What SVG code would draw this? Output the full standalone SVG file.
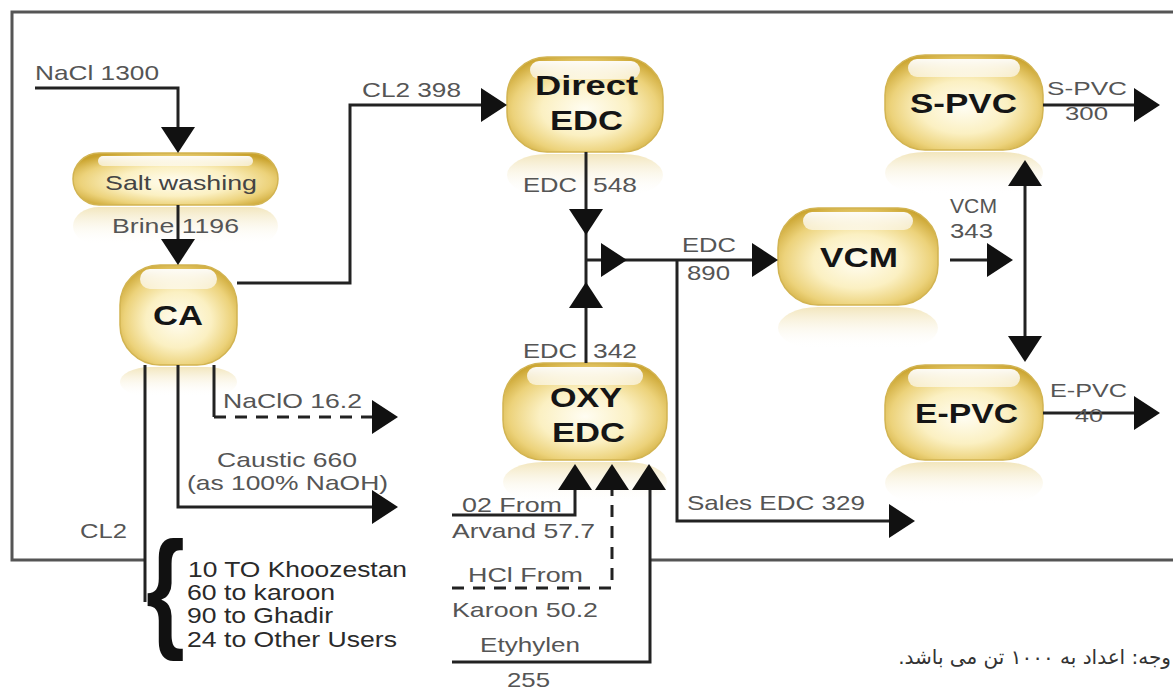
<svg xmlns="http://www.w3.org/2000/svg" xmlns:xlink="http://www.w3.org/1999/xlink" width="1173" height="691" viewBox="0 0 1173 691">
<style>
.ln{stroke:#222;stroke-width:3;fill:none}
.dash{stroke-dasharray:12 9}
.frame{stroke:#555;stroke-width:3;fill:none}
.ah{fill:#111}
.lbl{font-family:"Liberation Sans",Arial,sans-serif;font-size:21px;fill:#555}
.sm{font-size:18px}
.lst{font-family:"Liberation Sans",Arial,sans-serif;font-size:22px;fill:#2a2a2a}
.brace{font-family:"Liberation Sans",Arial,sans-serif;font-size:100px;font-weight:bold;fill:#111}
.nt{font-family:"Liberation Sans",Arial,sans-serif;font-weight:bold;font-size:28px;fill:#151515}
.nw{font-family:"Liberation Sans",Arial,sans-serif;font-size:21px;fill:#444}
.body{fill:url(#gold);stroke:#d2b452;stroke-width:1.5}
.hi{fill:url(#hil)}
.refl{fill:url(#rfl)}
.fa{font-family:"DejaVu Sans","Noto Sans",sans-serif;font-size:20px;fill:#333}
</style>
<defs>
<radialGradient id="gold" cx="0.5" cy="0.55" r="0.62">
<stop offset="0" stop-color="#fffdf2"/>
<stop offset="0.45" stop-color="#fbf0c2"/>
<stop offset="0.75" stop-color="#ecd27a"/>
<stop offset="1" stop-color="#c9a22c"/>
</radialGradient>
<linearGradient id="hil" x1="0" y1="0" x2="0" y2="1">
<stop offset="0" stop-color="#fff" stop-opacity="0.95"/>
<stop offset="1" stop-color="#fff" stop-opacity="0.6"/>
</linearGradient>
<linearGradient id="rfl" x1="0" y1="0" x2="0" y2="1">
<stop offset="0" stop-color="#e8d186" stop-opacity="0.55"/>
<stop offset="1" stop-color="#fff" stop-opacity="0"/>
</linearGradient>
<path id="ah" d="M0,0 L-26,-17 L-26,17 Z"/>
</defs>
<rect width="1173" height="691" fill="#fff"/>

<g id="n-salt">
<rect class="refl" x="73" y="207" width="205" height="38" rx="26"/>
<rect class="body" x="73" y="153" width="205" height="52" rx="26"/>
<rect class="hi" x="98" y="156" width="155" height="10" rx="5"/>
<text class="nw" x="105" y="190" textLength="152" lengthAdjust="spacingAndGlyphs">Salt washing</text>
</g>
<g id="n-ca">
<rect class="refl" x="120" y="367" width="117" height="30" rx="30"/>
<rect class="body" x="120" y="265" width="117" height="100" rx="40"/>
<rect class="hi" x="140" y="269" width="77" height="20" rx="10"/>
<text class="nt" x="153" y="325" textLength="50" lengthAdjust="spacingAndGlyphs">CA</text>
</g>
<g id="n-direct">
<rect class="refl" x="507" y="154" width="156" height="42" rx="40"/>
<rect class="body" x="507" y="57" width="156" height="95" rx="40"/>
<rect class="hi" x="530" y="61" width="110" height="18" rx="9"/>
<text class="nt" x="535" y="95" textLength="103" lengthAdjust="spacingAndGlyphs">Direct</text>
<text class="nt" x="550" y="130" textLength="73" lengthAdjust="spacingAndGlyphs">EDC</text>
</g>
<g id="n-vcm">
<rect class="refl" x="778" y="307" width="160" height="42" rx="40"/>
<rect class="body" x="778" y="208" width="160" height="97" rx="40"/>
<rect class="hi" x="803" y="212" width="110" height="18" rx="9"/>
<text class="nt" x="820" y="267" textLength="78" lengthAdjust="spacingAndGlyphs">VCM</text>
</g>
<g id="n-spvc">
<rect class="refl" x="885" y="152" width="158" height="42" rx="40"/>
<rect class="body" x="885" y="55" width="158" height="95" rx="40"/>
<rect class="hi" x="908" y="59" width="112" height="18" rx="9"/>
<text class="nt" x="910" y="113" textLength="107" lengthAdjust="spacingAndGlyphs">S-PVC</text>
</g>
<g id="n-epvc">
<rect class="refl" x="885" y="462" width="158" height="42" rx="40"/>
<rect class="body" x="885" y="365" width="158" height="95" rx="40"/>
<rect class="hi" x="908" y="369" width="112" height="18" rx="9"/>
<text class="nt" x="915" y="423" textLength="103" lengthAdjust="spacingAndGlyphs">E-PVC</text>
</g>
<g id="n-oxy">
<rect class="refl" x="503" y="462" width="164" height="40" rx="40"/>
<rect class="body" x="503" y="363" width="164" height="97" rx="40"/>
<rect class="hi" x="527" y="367" width="116" height="18" rx="9"/>
<text class="nt" x="550" y="407" textLength="72" lengthAdjust="spacingAndGlyphs">OXY</text>
<text class="nt" x="552" y="442" textLength="73" lengthAdjust="spacingAndGlyphs">EDC</text>
</g>

<g id="connectors">
<path class="frame" d="M1173,12 H12 V560 H145"/>
<path class="frame" d="M650,560 H1173"/>
<path class="ln" d="M35,88 H178 V140"/>
<use href="#ah" class="ah" transform="translate(178,153) rotate(90)"/>
<path class="ln" d="M178,205 V255"/>
<use href="#ah" class="ah" transform="translate(178,265) rotate(90)"/>
<path class="ln" d="M237,283 H350 V105 H495"/>
<use href="#ah" class="ah" transform="translate(507,105)"/>
<path class="ln" d="M586,152 V363"/>
<use href="#ah" class="ah" transform="translate(586,235) rotate(90)"/>
<use href="#ah" class="ah" transform="translate(586,282) rotate(-90)"/>
<path class="ln" d="M586,260 H768"/>
<use href="#ah" class="ah" transform="translate(627,260)"/>
<use href="#ah" class="ah" transform="translate(778,260)"/>
<path class="ln" d="M677,260 V521 H905"/>
<use href="#ah" class="ah" transform="translate(915,521)"/>
<path class="ln" d="M950,260 H1003"/>
<use href="#ah" class="ah" transform="translate(1013,260)"/>
<path class="ln" d="M1025,170 V352"/>
<use href="#ah" class="ah" transform="translate(1025,160) rotate(-90)"/>
<use href="#ah" class="ah" transform="translate(1025,362) rotate(90)"/>
<path class="ln" d="M1043,105 H1150"/>
<use href="#ah" class="ah" transform="translate(1160,105)"/>
<path class="ln" d="M1043,413 H1150"/>
<use href="#ah" class="ah" transform="translate(1160,413)"/>
<path class="ln" d="M178,365 V507 H388"/>
<use href="#ah" class="ah" transform="translate(398,507)"/>
<path class="ln" d="M214,365 V417"/>
<path class="ln dash" d="M214,417 H388"/>
<use href="#ah" class="ah" transform="translate(398,417)"/>
<path class="ln" d="M145,365 V602"/>
<path class="ln" d="M452,515 H575 V478"/>
<use href="#ah" class="ah" transform="translate(575,464) rotate(-90)"/>
<path class="ln dash" d="M452,588 H612 V478"/>
<use href="#ah" class="ah" transform="translate(612,464) rotate(-90)"/>
<path class="ln" d="M452,662 H650 V478"/>
<use href="#ah" class="ah" transform="translate(649,464) rotate(-90)"/>
</g>

<g id="labels">
<text class="lbl" x="35" y="80" textLength="124" lengthAdjust="spacingAndGlyphs">NaCl 1300</text>
<text class="lbl" x="112" y="233" textLength="127" lengthAdjust="spacingAndGlyphs">Brine 1196</text>
<text class="lbl" x="362" y="97" textLength="99" lengthAdjust="spacingAndGlyphs">CL2 398</text>
<text class="lbl" x="523" y="192" textLength="54" lengthAdjust="spacingAndGlyphs">EDC</text>
<text class="lbl" x="593" y="192" textLength="44" lengthAdjust="spacingAndGlyphs">548</text>
<text class="lbl" x="682" y="252" textLength="54" lengthAdjust="spacingAndGlyphs">EDC</text>
<text class="lbl" x="687" y="280" textLength="43" lengthAdjust="spacingAndGlyphs">890</text>
<text class="lbl" x="523" y="358" textLength="54" lengthAdjust="spacingAndGlyphs">EDC</text>
<text class="lbl" x="593" y="358" textLength="44" lengthAdjust="spacingAndGlyphs">342</text>
<text class="lbl" x="950" y="213" textLength="47" lengthAdjust="spacingAndGlyphs">VCM</text>
<text class="lbl" x="950" y="238" textLength="43" lengthAdjust="spacingAndGlyphs">343</text>
<text class="lbl sm" x="1047" y="95" textLength="80" lengthAdjust="spacingAndGlyphs">S-PVC</text>
<text class="lbl sm" x="1065" y="120" textLength="43" lengthAdjust="spacingAndGlyphs">300</text>
<text class="lbl sm" x="1050" y="397" textLength="77" lengthAdjust="spacingAndGlyphs">E-PVC</text>
<text class="lbl sm" x="1075" y="422" textLength="28" lengthAdjust="spacingAndGlyphs">40</text>
<text class="lbl" x="223" y="408" textLength="139" lengthAdjust="spacingAndGlyphs">NaClO 16.2</text>
<text class="lbl" x="217" y="467" textLength="140" lengthAdjust="spacingAndGlyphs">Caustic 660</text>
<text class="lbl" x="187" y="490" textLength="201" lengthAdjust="spacingAndGlyphs">(as 100% NaOH)</text>
<text class="lbl" x="80" y="538" textLength="47" lengthAdjust="spacingAndGlyphs">CL2</text>
<text class="lbl" x="687" y="510" textLength="178" lengthAdjust="spacingAndGlyphs">Sales EDC 329</text>
<text class="lbl" x="462" y="512" textLength="100" lengthAdjust="spacingAndGlyphs">02 From</text>
<text class="lbl" x="452" y="538" textLength="143" lengthAdjust="spacingAndGlyphs">Arvand 57.7</text>
<text class="lbl" x="468" y="582" textLength="115" lengthAdjust="spacingAndGlyphs">HCl From</text>
<text class="lbl" x="452" y="617" textLength="146" lengthAdjust="spacingAndGlyphs">Karoon 50.2</text>
<text class="lbl" x="480" y="652" textLength="100" lengthAdjust="spacingAndGlyphs">Etyhylen</text>
<text class="lbl" x="507" y="687" textLength="43" lengthAdjust="spacingAndGlyphs">255</text>
<text class="brace" transform="translate(146,634) scale(1,1.32)" x="0" y="0">{</text>
<text class="lst" x="188" y="577" textLength="219" lengthAdjust="spacingAndGlyphs">10 TO Khoozestan</text>
<text class="lst" x="187" y="600" textLength="148" lengthAdjust="spacingAndGlyphs">60 to karoon</text>
<text class="lst" x="187" y="623" textLength="146" lengthAdjust="spacingAndGlyphs">90 to Ghadir</text>
<text class="lst" x="187" y="647" textLength="210" lengthAdjust="spacingAndGlyphs">24 to Other Users</text>
<text class="fa" x="1171" y="664" direction="rtl" text-anchor="start">وجه: اعداد به ۱۰۰۰ تن می باشد.</text>
</g>
</svg>
